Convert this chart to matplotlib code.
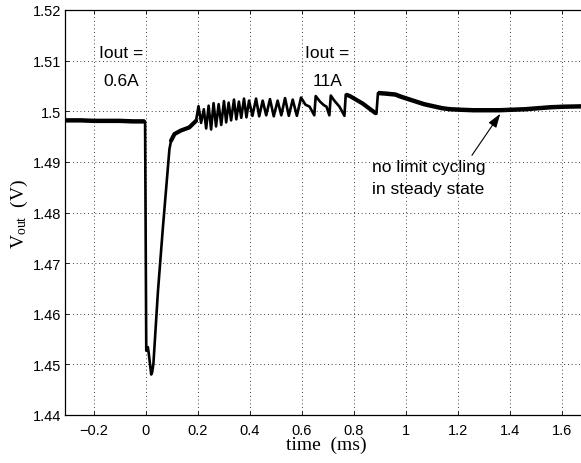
import numpy as np
import matplotlib
matplotlib.use('Agg')
import matplotlib.pyplot as plt

t_pre = [-0.31, -0.25, -0.2, -0.15, -0.1, -0.05, -0.004]
v_pre = [1.4982, 1.4982, 1.4981, 1.4981, 1.4981, 1.4980, 1.4980]

t_dip = [-0.003, 0.0015, 0.0077, 0.011, 0.0206, 0.024, 0.029, 0.0463, 0.065, 0.0906]
v_dip = [1.4980, 1.4527, 1.4534, 1.4522, 1.4480, 1.4484, 1.4501, 1.4643, 1.4767, 1.4925]

t_knee = [0.0906, 0.097, 0.110, 0.135, 0.167, 0.193]
v_knee = [1.4925, 1.4942, 1.4955, 1.4962, 1.4968, 1.4981]

t_rip = [0.2025, 0.2125, 0.223, 0.232, 0.2415, 0.251, 0.2605, 0.270, 0.280, 0.290,
         0.3005, 0.309, 0.3185, 0.328, 0.339, 0.348, 0.358, 0.367, 0.3775, 0.387,
         0.397, 0.410, 0.424, 0.436, 0.4495, 0.463, 0.4775, 0.492, 0.507, 0.521,
         0.5355, 0.550, 0.565, 0.581, 0.597]
v_rip = [1.5010, 1.4977, 1.5004, 1.4966, 1.5011, 1.4964, 1.5016, 1.4970, 1.5014, 1.4973,
         1.5020, 1.4978, 1.5017, 1.4982, 1.5023, 1.4984, 1.5019, 1.4987, 1.5025, 1.4988,
         1.5021, 1.4991, 1.5025, 1.4990, 1.5021, 1.4992, 1.5024, 1.4990, 1.5021, 1.4992,
         1.5026, 1.4991, 1.5023, 1.4991, 1.5027]

t_saw = [0.614, 0.630, 0.648, 0.6535, 0.670, 0.685, 0.695, 0.706, 0.7115, 0.725, 0.745, 0.764]
v_saw = [1.5013, 1.5009, 1.4992, 1.5030, 1.5019, 1.5012, 1.5009, 1.4992, 1.5031, 1.5021, 1.5009, 1.4991]

t_settle = [0.769, 0.785, 0.805, 0.835, 0.866, 0.887, 0.893, 0.92, 0.96, 0.98, 1.01, 1.04, 1.07,
            1.105, 1.14, 1.17, 1.21, 1.26, 1.31, 1.36, 1.41, 1.46, 1.51, 1.56, 1.61, 1.71]
v_settle = [1.5033, 1.5030, 1.5024, 1.5015, 1.5003, 1.4995, 1.5036, 1.5035, 1.5033, 1.5029,
            1.5024, 1.5019, 1.5014, 1.5010, 1.5006, 1.5004, 1.5003, 1.5002, 1.5002, 1.5002,
            1.5003, 1.5004, 1.5006, 1.5008, 1.5009, 1.5010]

xticks = [-0.2, 0, 0.2, 0.4, 0.6, 0.8, 1.0, 1.2, 1.4, 1.6]
xticklabels = ['\u22120.2', '0', '0.2', '0.4', '0.6', '0.8', '1', '1.2', '1.4', '1.6']
yticks = [1.44, 1.45, 1.46, 1.47, 1.48, 1.49, 1.50, 1.51, 1.52]
yticklabels = ['1.44', '1.45', '1.46', '1.47', '1.48', '1.49', '1.5', '1.51', '1.52']

sans = 'Liberation Sans'
serif = 'Liberation Serif'
plt.rcParams['mathtext.default'] = 'regular'

fig = plt.figure(figsize=(5.81, 4.64), dpi=100)
ax = fig.add_axes([65.3 / 581, 48 / 464, 522.4 / 581, 405 / 464])

t_all = t_pre + t_dip + t_knee + t_rip + t_saw + t_settle
v_all = v_pre + v_dip + v_knee + v_rip + v_saw + v_settle
ax.plot(t_all, v_all, color='k', lw=1.9, zorder=3)
# noisy flat parts show up as a wider band
ax.plot(t_pre, v_pre, color='k', lw=3.2, solid_capstyle='butt', zorder=3)
ax.plot(t_knee[1:], v_knee[1:], color='k', lw=3.0, solid_capstyle='round', zorder=3)
ax.plot(t_settle[:6], v_settle[:6], color='k', lw=3.0, solid_capstyle='butt', zorder=3)
ax.plot(t_settle[6:], v_settle[6:], color='k', lw=3.2, solid_capstyle='butt', zorder=3)

ax.set_xlim(-0.31, 1.70)
ax.set_ylim(1.44, 1.52)
ax.set_xticks(xticks)
ax.set_xticklabels(xticklabels, fontfamily=sans, fontsize=10.5)
ax.set_yticks(yticks)
ax.set_yticklabels(yticklabels, fontfamily=sans, fontsize=10.5)
ax.tick_params(direction='in', top=True, right=True, length=3, width=0.6)
ax.tick_params(axis='x', pad=5.5)
ax.tick_params(axis='y', pad=3)
for s in ax.spines.values():
    s.set_linewidth(0.9)

ax.grid(True, color='k', lw=0.6, linestyle=(0, (1, 3.5)), zorder=0)

ax.set_xlabel('time  (ms)', fontfamily=serif, fontsize=14)
ax.xaxis.set_label_coords(0.5, -0.050)
ax.set_ylabel('V$_{out}$  (V)', fontfamily=serif, fontsize=14)
ax.yaxis.set_label_coords(-0.068, 0.5)

ax.text(-0.095, 1.5107, 'Iout =', fontfamily=sans, fontsize=12.5, ha='center', va='baseline')
ax.text(-0.095, 1.5052, '0.6A', fontfamily=sans, fontsize=12.5, ha='center', va='baseline')
ax.text(0.699, 1.5107, 'Iout =', fontfamily=sans, fontsize=12.5, ha='center', va='baseline')
ax.text(0.699, 1.5052, '11A', fontfamily=sans, fontsize=12.5, ha='center', va='baseline')
ax.text(0.869, 1.4881, 'no limit cycling', fontfamily=sans, fontsize=12.5, ha='left', va='baseline')
ax.text(0.869, 1.4839, 'in steady state', fontfamily=sans, fontsize=12.5, ha='left', va='baseline')

ax.annotate('', xy=(1.3636, 1.4995), xytext=(1.2546, 1.4913),
            arrowprops=dict(arrowstyle='-|>,head_length=0.6,head_width=0.2',
                            color='k', lw=0.8, mutation_scale=14, shrinkA=0, shrinkB=0))

fig.savefig('out.png', dpi=100)
